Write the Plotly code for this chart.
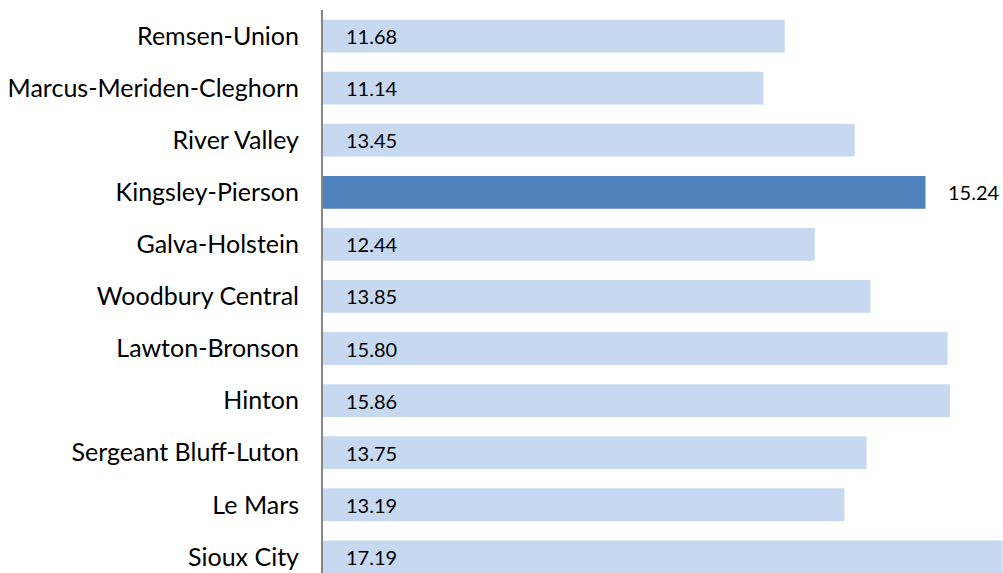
import plotly.graph_objects as go

districts = ["Remsen-Union", "Marcus-Meriden-Cleghorn", "River Valley", "Kingsley-Pierson",
             "Galva-Holstein", "Woodbury Central", "Lawton-Bronson", "Hinton",
             "Sergeant Bluff-Luton", "Le Mars", "Sioux City"]
values = [11.68, 11.14, 13.45, 15.24, 12.44, 13.85, 15.80, 15.86, 13.75, 13.19, 17.19]
highlight = "Kingsley-Pierson"

LIGHT = "#C6D9F1"
DARK = "#4F81BD"
FONT = "Lato"

colors = [DARK if d == highlight else LIGHT for d in districts]

fig = go.Figure(go.Bar(
    y=districts, x=values, orientation="h",
    marker=dict(color=colors, line=dict(width=0)),
    hoverinfo="skip",
))

annotations = []
for d, v in zip(districts, values):
    if d == highlight:
        annotations.append(dict(x=v, y=d, xref="x", yref="y", text=f"{v:.2f}",
                                showarrow=False, xanchor="left", xshift=20,
                                font=dict(family=FONT, size=20, color="#000")))
    else:
        annotations.append(dict(x=0, y=d, xref="x", yref="y", text=f"{v:.2f}",
                                showarrow=False, xanchor="left", xshift=21,
                                font=dict(family=FONT, size=20, color="#000")))

fig.update_layout(
    width=1003, height=573,
    margin=dict(l=323, r=0, t=10, b=0),
    paper_bgcolor="white", plot_bgcolor="white",
    bargap=0.37,
    showlegend=False,
    annotations=annotations,
    xaxis=dict(range=[0, 17.2], visible=False, fixedrange=True),
    yaxis=dict(
        categoryorder="array", categoryarray=districts,
        range=[10.31, -0.5], autorange=False, fixedrange=True,
        showline=True, linecolor="#878787", linewidth=2,
        showgrid=False, zeroline=False, ticks="",
        ticklabelstandoff=17, automargin=False,
        tickfont=dict(family=FONT, size=25, color="#000"),
    ),
)

fig.write_html("out.html", config={"displayModeBar": False},
               post_script="document.body.style.margin='0';document.body.style.overflow='hidden';")
